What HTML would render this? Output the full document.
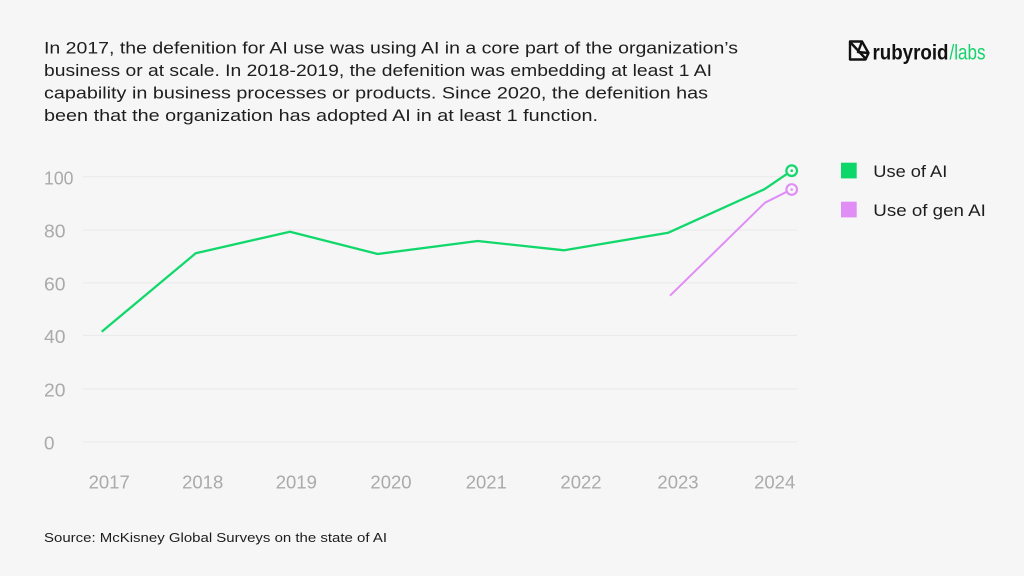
<!DOCTYPE html>
<html>
<head>
<meta charset="utf-8">
<style>
html,body{margin:0;padding:0;background:#f6f6f6;}
svg{display:block;}
text{font-family:"Liberation Sans","DejaVu Sans",sans-serif;}
</style>
</head>
<body>
<svg width="1024" height="576" viewBox="0 0 1024 576" xmlns="http://www.w3.org/2000/svg">
<rect width="1024" height="576" fill="#f6f6f6"/>
<!-- header -->
<g fill="#1e1e1e" font-size="17">
<text x="44" y="53.5" textLength="694" lengthAdjust="spacingAndGlyphs">In 2017, the defenition for AI use was using AI in a core part of the organization’s</text>
<text x="44" y="76" textLength="668" lengthAdjust="spacingAndGlyphs">business or at scale. In 2018-2019, the defenition was embedding at least 1 AI</text>
<text x="44" y="98.7" textLength="664" lengthAdjust="spacingAndGlyphs">capability in business processes or products. Since 2020, the defenition has</text>
<text x="44" y="121" textLength="554" lengthAdjust="spacingAndGlyphs">been that the organization has adopted AI in at least 1 function.</text>
</g>
<!-- logo -->
<g fill="none" stroke="#111" stroke-width="2.4" stroke-linejoin="round">
<path d="M850 41.5 L862 41.5 L868.5 53 L865.5 59.5 L850 59.5 Z"/>
<path d="M851 43 L865 58"/>
<path d="M862 41.5 L858 52 L868 53"/>
</g>
<text x="872.5" y="59.5" font-size="21" font-weight="bold" fill="#111" textLength="76" lengthAdjust="spacingAndGlyphs">rubyroid</text>
<text x="949.5" y="59.5" font-size="21" fill="#12d36a" textLength="36" lengthAdjust="spacingAndGlyphs">/labs</text>
<!-- gridlines -->
<g stroke="#ebebeb" stroke-width="1.2">
<line x1="83" y1="176.7" x2="797" y2="176.7"/>
<line x1="83" y1="230" x2="797" y2="230"/>
<line x1="83" y1="282.8" x2="797" y2="282.8"/>
<line x1="83" y1="335.4" x2="797" y2="335.4"/>
<line x1="83" y1="389" x2="797" y2="389"/>
<line x1="83" y1="441.8" x2="797" y2="441.8"/>
</g>
<!-- y labels -->
<g fill="#aaaaaa" font-size="18.5">
<text x="44" y="184.3" textLength="29.5" lengthAdjust="spacingAndGlyphs">100</text>
<text x="44" y="237.6" textLength="21.5" lengthAdjust="spacingAndGlyphs">80</text>
<text x="44" y="290.4" textLength="21.5" lengthAdjust="spacingAndGlyphs">60</text>
<text x="44" y="343" textLength="21.5" lengthAdjust="spacingAndGlyphs">40</text>
<text x="44" y="396.6" textLength="21.5" lengthAdjust="spacingAndGlyphs">20</text>
<text x="44" y="449.4" textLength="10.5" lengthAdjust="spacingAndGlyphs">0</text>
</g>
<!-- x labels -->
<g fill="#aaaaaa" font-size="18.5" text-anchor="middle">
<text x="109.2" y="488.3">2017</text>
<text x="202.7" y="488.3">2018</text>
<text x="296.3" y="488.3">2019</text>
<text x="391" y="488.3">2020</text>
<text x="486.3" y="488.3">2021</text>
<text x="581" y="488.3">2022</text>
<text x="678" y="488.3">2023</text>
<text x="774.7" y="488.3">2024</text>
</g>
<!-- series -->
<polyline fill="none" stroke="#12d86c" stroke-width="2.3" stroke-linejoin="round" points="101.7,331.7 195.7,253.3 290,231.7 377.7,254 477.7,241 564.3,250.3 668.3,232.7 764.3,189.3 791.7,170.7"/>
<polyline fill="none" stroke="#e08ef5" stroke-width="2" stroke-linejoin="round" points="670,295.7 765,202.7 791.7,189.3"/>
<circle cx="791.7" cy="170.7" r="5.3" fill="#f6f6f6" stroke="#12d86c" stroke-width="2.2"/>
<circle cx="791.7" cy="170.7" r="1.3" fill="#12d86c"/>
<circle cx="791.7" cy="189.5" r="5.3" fill="#f6f6f6" stroke="#e08ef5" stroke-width="2.2"/>
<circle cx="791.7" cy="189.5" r="1.3" fill="#e08ef5"/>
<!-- legend -->
<rect x="841" y="162.7" width="15.7" height="15.7" fill="#0dd66a"/>
<rect x="841" y="201.7" width="15.7" height="15.7" fill="#e08ef5"/>
<g fill="#1e1e1e" font-size="17">
<text x="873.3" y="176.8" textLength="74" lengthAdjust="spacingAndGlyphs">Use of AI</text>
<text x="873.3" y="215.8" textLength="112.5" lengthAdjust="spacingAndGlyphs">Use of gen AI</text>
</g>
<!-- source -->
<text x="44" y="541.8" font-size="13" fill="#1e1e1e" textLength="343" lengthAdjust="spacingAndGlyphs">Source: McKisney Global Surveys on the state of AI</text>
</svg>
</body>
</html>
